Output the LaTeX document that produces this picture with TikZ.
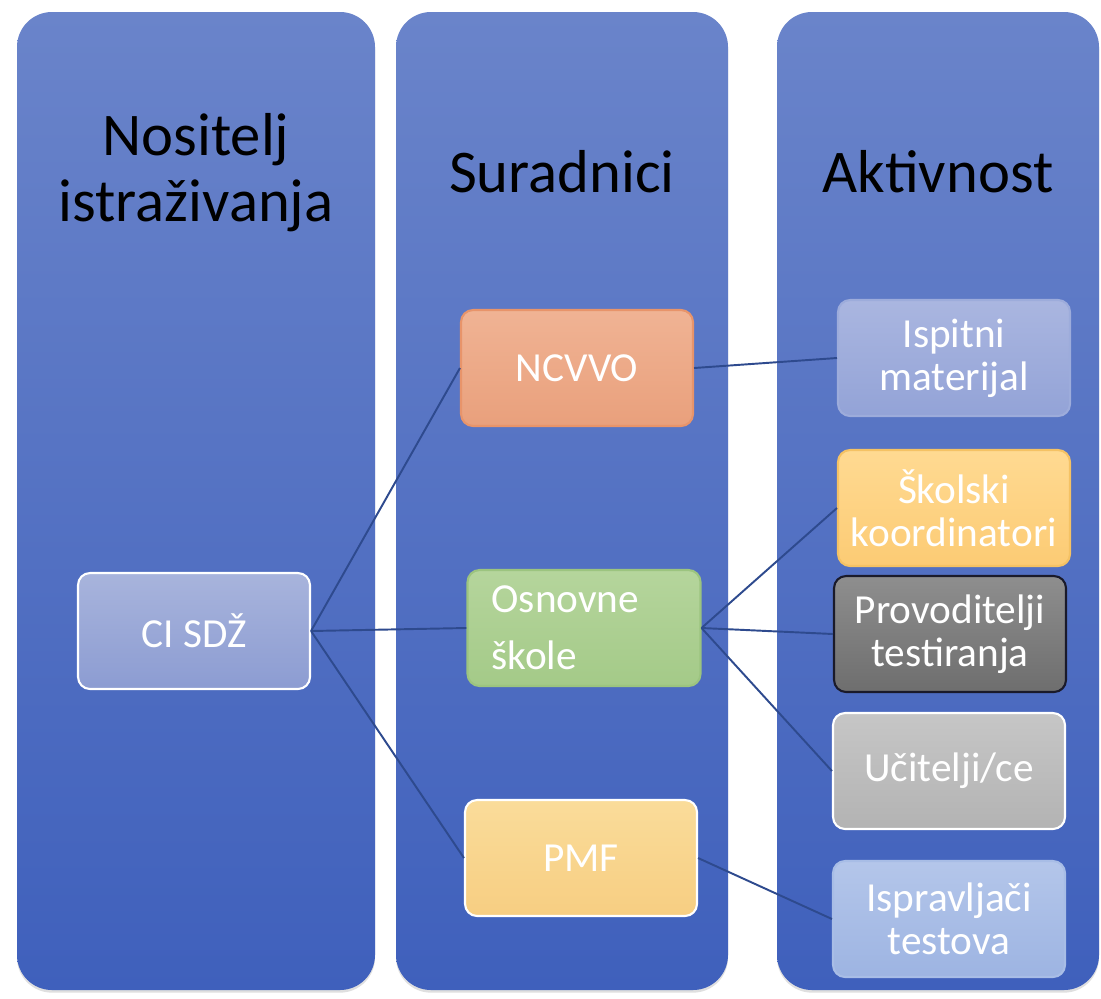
\documentclass[tikz,border=0pt]{standalone}
\usepackage{fontspec}
\setmainfont{Carlito}
\usetikzlibrary{positioning, shadows}

\definecolor{coltop}{HTML}{6A84CA}
\definecolor{colbot}{HTML}{3F60BC}
\definecolor{linkblue}{HTML}{2E4A8E}
\definecolor{ciTop}{HTML}{A8B4DC}
\definecolor{ciBot}{HTML}{8C9CD2}
\definecolor{ncTop}{HTML}{F0B394}
\definecolor{ncBot}{HTML}{E9A07C}
\definecolor{ncBor}{HTML}{E8946A}
\definecolor{osTop}{HTML}{B5D59C}
\definecolor{osBot}{HTML}{A4CA88}
\definecolor{osBor}{HTML}{9CC47F}
\definecolor{pmTop}{HTML}{FADC9A}
\definecolor{pmBot}{HTML}{F7CE82}
\definecolor{isTop}{HTML}{AAB6E0}
\definecolor{isBot}{HTML}{93A3D7}
\definecolor{isBor}{HTML}{9DACDB}
\definecolor{skTop}{HTML}{FFDA92}
\definecolor{skBot}{HTML}{FCCB74}
\definecolor{skBor}{HTML}{F5C264}
\definecolor{prTop}{HTML}{8E8E8E}
\definecolor{prBot}{HTML}{6E6E6E}
\definecolor{prBor}{HTML}{1A1A2A}
\definecolor{ucTop}{HTML}{C6C6C6}
\definecolor{ucBot}{HTML}{B3B3B3}
\definecolor{ipTop}{HTML}{B4C6EA}
\definecolor{ipBot}{HTML}{9DB4E2}
\definecolor{ipBor}{HTML}{A8BDE6}

\begin{document}
\begin{tikzpicture}[
    x=0.02cm, y=-0.02cm,
    colbox/.style={rounded corners=0.7cm, top color=coltop, bottom color=colbot,
                   drop shadow={shadow xshift=0pt, shadow yshift=-1.5pt, opacity=0.25}},
    head/.style={font=\fontsize{34.5}{37.5}\selectfont, text=black, align=center},
    item/.style={rounded corners=0.24cm, minimum width=4.64cm, minimum height=2.32cm,
                 inner sep=2pt, align=center, text=white, line width=1.2pt,
                 font=\fontsize{23.5}{24.5}\selectfont},
    link/.style={draw=linkblue, line width=1.1pt}
]
\useasboundingbox[fill=white] (0,0) rectangle (1101,998);

% Stupci
\shade[colbox] (17,12) rectangle (375,990);
\shade[colbox] (396,12) rectangle (728,990);
\shade[colbox] (777,12) rectangle (1099,990);

% Naslovi
\node[head] (hnos) at (196,173) {Nositelj\\istraživanja};
\node[head, anchor=base] (hsur) at (562,192) {Suradnici};
\node[head, anchor=base] (hakt) at (938,192) {Aktivnost};

% Nositelj
\node[item, draw=white, top color=ciTop, bottom color=ciBot] (ci) at (194,631) {CI SDŽ};

% Suradnici
\node[item, draw=ncBor, top color=ncTop, bottom color=ncBot] (ncvvo) at (577,368) {NCVVO};
\node[item, draw=osBor, top color=osTop, bottom color=osBot, text width=3.7cm,
      align=left, inner xsep=0.48cm, font=\fontsize{23.5}{32.5}\selectfont] (os) at (584,628) {Osnovne\\škole};
\node[item, draw=white, top color=pmTop, bottom color=pmBot] (pmf) at (581,858) {PMF};

% Aktivnost
\node[item, draw=isBor, top color=isTop, bottom color=isBot] (isp) at (954,358) {Ispitni\\materijal};
\node[item, draw=skBor, top color=skTop, bottom color=skBot] (skol) at (954,508) {Školski\\koordinatori};
\node[item, draw=prBor, top color=prTop, bottom color=prBot] (prov) at (950,634) {Provoditelji\\testiranja};
\node[item, draw=white, top color=ucTop, bottom color=ucBot] (uci) at (949,771) {Učitelji/ce};
\node[item, draw=ipBor, top color=ipTop, bottom color=ipBot] (ispr) at (949,919) {Ispravljači\\testova};

% Veze
\draw[link] (ci.east) -- (ncvvo.west);
\draw[link] (ci.east) -- (os.west);
\draw[link] (ci.east) -- (pmf.west);
\draw[link] (ncvvo.east) -- (isp.west);
\draw[link] (os.east) -- (skol.west);
\draw[link] (os.east) -- (prov.west);
\draw[link] (os.east) -- (uci.west);
\draw[link] (pmf.east) -- (ispr.west);

\end{tikzpicture}
\end{document}
